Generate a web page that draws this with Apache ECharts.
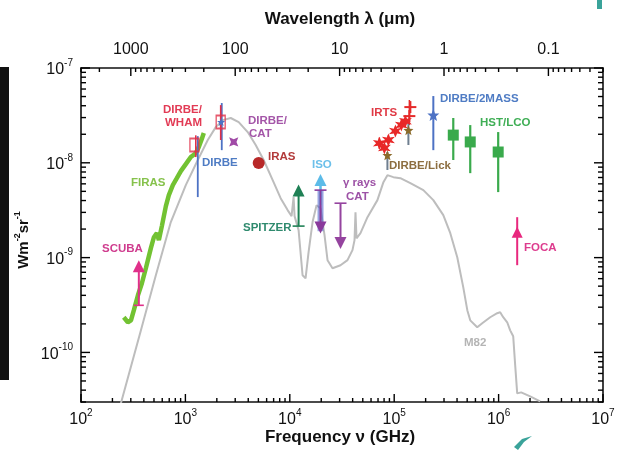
<!DOCTYPE html>
<html><head><meta charset="utf-8">
<script src="https://cdn.jsdelivr.net/npm/echarts@6/dist/echarts.min.js"></script>
<style>html,body{margin:0;padding:0;background:#fff}#c{width:619px;height:450px}</style>
</head><body><div id="c"></div>
<script>
const dbg = [];
window.onerror = function (m) { dbg.push('onerror: ' + m); };

// ---------- axis ranges / tick labels ----------
const freqRange = [1e2, 1e7];          // GHz
const intensityRange = [3e-11, 1e-7];  // W m^-2 sr^-1
const wavelengthRange = [0.03, 3000];  // micron (c / nu)
const freqTickExponents = [2, 3, 4, 5, 6, 7];
const intensityTickExponents = [-10, -9, -8, -7];
const wavelengthTickLabels = ['1000', '100', '10', '1', '0.1'];

// ---------- data: [frequency GHz, intensity] ----------
const m82 = [[231,2.45e-11],[375,1.71e-10],[521,6.52e-10],[725,2.37e-9],[1009,5.82e-9],[1314,1.07e-8],[1638,1.74e-8],[1954,2.38e-8],[2280,2.82e-8],[2718,2.97e-8],[3240,2.69e-8],[3953,2.11e-8],[4713,1.54e-8],[5620,1.07e-8],[6855,6.56e-9],[8170,4.24e-9],[9530,3.17e-9],[10400,2.74e-9],[10870,4.35e-9],[11110,2.74e-9],[12140,1.95e-9],[13250,6.52e-10],[14160,6.05e-10],[15130,1.14e-9],[16520,2.37e-9],[18040,3.57e-9],[19690,3.32e-9],[21510,1.73e-9],[22980,9.40e-10],[25650,7.73e-10],[30600,8.32e-10],[35700,9.40e-10],[39840,1.20e-9],[41690,1.53e-9],[42580,3.01e-9],[43560,1.60e-9],[47530,1.81e-9],[55460,2.67e-9],[69050,4.04e-9],[78850,6.25e-9],[86100,7.41e-9],[98200,7.06e-9],[114600,6.89e-9],[142800,6.10e-9],[190200,5.15e-9],[237000,4.04e-9],[295300,2.81e-9],[344600,1.81e-9],[401800,1.01e-9],[458900,4.86e-10],[501400,2.79e-10],[535000,2.18e-10],[624000,1.84e-10],[697000,2.03e-10],[831000,2.35e-10],[970000,2.59e-10],[1035000,2.65e-10],[1107000,2.35e-10],[1209000,2.08e-10],[1291000,1.71e-10],[1380000,1.48e-10],[1442000,7.31e-11],[1507000,3.70e-11],[1645000,3.79e-11],[2006000,3.44e-11],[2500000,3.05e-11]];
const firas = [[257,2.35e-10],[281,2.08e-10],[301,2.18e-10],[321,2.79e-10],[351,4.01e-10],[383,5.37e-10],[418,7.73e-10],[467,1.26e-9],[499,1.64e-9],[533,1.81e-9],[557,1.53e-9],[595,2.15e-9],[650,3.49e-9],[694,4.56e-9],[758,5.82e-9],[828,6.89e-9],[904,8.17e-9],[1009,9.68e-9],[1127,1.15e-8],[1257,1.26e-8],[1344,1.47e-8],[1436,1.78e-8],[1500,2.06e-8]];

// limits: [frequency, base of arrow, tip of arrow]
const scubaLimit   = [[358, 3.14e-10, 9.4e-10]];
const spitzerLimit = [[12140, 2.15e-9, 5.9e-9]];
const isoLower     = [[19690, 3.6e-9, 7.6e-9]];
const isoUpper     = [[19690, 5.15e-9, 1.8e-9]];
const gammaUpper   = [[30600, 3.75e-9, 1.23e-9]];

// error bars: [frequency, low, high]
const dirbeWhamBars = [[1257, 1.15e-8, 1.95e-8], [2178, 1.74e-8, 4.06e-8]];
const dirbeBars     = [[1314, 4.35e-9, 1.91e-8], [2230, 1.36e-8, 4.27e-8]];
const isoBand       = [[19690, 1.9e-9, 5.15e-9]];
const lickBars      = [[86100, 8.4e-9, 1.3e-8], [136800, 1.54e-8, 2.69e-8]];
const irtsBars      = [[72100,1.4e-8,1.85e-8],[88000,1.55e-8,1.95e-8],[102700,1.95e-8,2.4e-8],[128000,2.5e-8,3.0e-8],[139700,2.5e-8,4.6e-8]];
const twoMassBars   = [[237000, 1.36e-8, 5.06e-8]];
const hstBars       = [[368000, 1.07e-8, 2.97e-8], [535000, 7.78e-9, 2.50e-8], [991000, 4.91e-9, 2.11e-8]];
const focaBars      = [[1507000, 8.32e-10, 2.67e-9]];

// points: [frequency, intensity]
const dirbeWhamPts = [[1220, 1.54e-8], [2178, 2.69e-8]];
const dirbePts     = [[2200, 2.69e-8]];
const dirbeCatPts  = [[2904, 1.66e-8]];
const irasPts      = [[5034, 9.93e-9]];
const irtsPts      = [[72100,1.61e-8],[80500,1.43e-8],[88000,1.74e-8],[102700,2.16e-8],[117100,2.50e-8],[128000,2.75e-8]];
const irtsCross    = [[139700, 3.11e-8], [142800, 3.87e-8]];
const lickPts      = [[86100, 1.20e-8], [136800, 2.21e-8]];
const twoMassPts   = [[237000, 3.19e-8]];
const hstPts       = [[368000, 1.96e-8], [535000, 1.66e-8], [991000, 1.30e-8]];
const focaPts      = [[1507000, 1.85e-9]];

const FONT = '"Liberation Sans", Arial, Helvetica, sans-serif';
const isPow10 = v => Math.abs(Math.log10(v) - Math.round(Math.log10(v))) < 1e-6;

function arrowSeries(name, data, color, capW, lw) {
  return { type:'custom', name, data, clip:false, z:6,
    renderItem(p, api) {
      const a = api.coord([api.value(0), api.value(1)]);
      const b = api.coord([api.value(0), api.value(2)]);
      const dir = b[1] < a[1] ? -1 : 1, th = 12, tw = 6;
      const ch = [
        {type:'line', shape:{x1:a[0],y1:a[1],x2:b[0],y2:b[1]-dir*th*0.5}, style:{stroke:color,lineWidth:lw||2}},
        {type:'polygon', shape:{points:[[b[0],b[1]],[b[0]-tw,b[1]-dir*th],[b[0]+tw,b[1]-dir*th]]}, style:{fill:color}}
      ];
      if (capW) ch.push({type:'line', shape:{x1:a[0]-capW,y1:a[1],x2:a[0]+capW,y2:a[1]}, style:{stroke:color,lineWidth:1.6}});
      return {type:'group', children:ch};
    }};
}
function barSeries(name, data, color, lw, capW, z) {
  return { type:'custom', name, data, clip:false, z:z||4,
    renderItem(p, api) {
      const a = api.coord([api.value(0), api.value(1)]);
      const b = api.coord([api.value(0), api.value(2)]);
      const ch = [{type:'line', shape:{x1:a[0],y1:a[1],x2:b[0],y2:b[1]}, style:{stroke:color,lineWidth:lw}}];
      if (capW) ch.push({type:'line', shape:{x1:b[0]-capW,y1:b[1],x2:b[0]+capW,y2:b[1]}, style:{stroke:color,lineWidth:1.6}});
      return {type:'group', children:ch};
    }};
}
function crossSeries(name, data, color) {
  return { type:'custom', name, data, clip:false, z:7,
    renderItem(p, api) {
      const a = api.coord([api.value(0), api.value(1)]);
      return {type:'group', children:[
        {type:'line', shape:{x1:a[0]-6,y1:a[1],x2:a[0]+6,y2:a[1]}, style:{stroke:color,lineWidth:2}},
        {type:'line', shape:{x1:a[0],y1:a[1]-6,x2:a[0],y2:a[1]+6}, style:{stroke:color,lineWidth:2}}
      ]};
    }};
}
function pts(name, data, symbol, size, color, extra) {
  return Object.assign({ type:'scatter', name, data, symbol, symbolSize:size, z:7,
    itemStyle:{color, opacity:1} }, extra||{});
}
const STAR5 = 'path://M0,-10 L2.6,-3.4 9.5,-3.1 4.1,1.3 5.9,8.1 0,4.2 -5.9,8.1 -4.1,1.3 -9.5,-3.1 -2.6,-3.4Z';
const STAR6 = 'path://M0,-10 L2.2,-3.8 8.7,-5 4.4,0 8.7,5 2.2,3.8 0,10 -2.2,3.8 -8.7,5 -4.4,0 -8.7,-5 -2.2,-3.8Z';
const STAR4 = 'path://M0,-10 L3,-3 10,0 3,3 0,10 -3,3 -10,0 -3,-3Z';

const supRich = {
  b:{fontSize:16, fontFamily:FONT, color:'#111', lineHeight:20, verticalAlign:'bottom'},
  s:{fontSize:10, fontFamily:FONT, color:'#111', lineHeight:10, verticalAlign:'top'}
};
const axisLineStyle = {show:true, onZero:false, lineStyle:{color:'#111', width:1.6}};

const chart = echarts.init(document.getElementById('c'));
const lbl = (t, x, y, color) => ({type:'text', x, y, z:20, style:{text:t, fill:color, font:'bold 11.5px ' + FONT, textVerticalAlign:'middle'}});

const makeTextGraphics = () => [
  {type:'rect', shape:{x:0, y:67, width:9, height:313}, style:{fill:'#111'}, z:1},
  {type:'rect', shape:{x:597, y:0, width:5, height:9}, style:{fill:'#3aa39a'}, z:1},
  {type:'polygon', shape:{points:[[514,447],[522,439],[532,436],[524,442],[518,450]]}, style:{fill:'#3aa39a'}, z:1},
  {type:'text', x:340, y:19, z:20, style:{text:'Wavelength λ (μm)', fill:'#111', font:'bold 17px ' + FONT, textAlign:'center', textVerticalAlign:'middle'}},
  {type:'text', x:340, y:437, z:20, style:{text:'Frequency ν (GHz)', fill:'#111', font:'bold 17px ' + FONT, textAlign:'center', textVerticalAlign:'middle'}},
  {type:'text', x:22, y:240, rotation:Math.PI/2, z:20, style:{text:'{b|Wm}{s|-2}{b|sr}{s|-1}', textAlign:'center', textVerticalAlign:'middle',
    rich:{b:{font:'bold 15px ' + FONT, fill:'#111', lineHeight:18, verticalAlign:'bottom'}, s:{font:'bold 9px ' + FONT, fill:'#111', lineHeight:9, verticalAlign:'top'}}}},
  lbl('DIRBE/', 163, 110, '#e23b55'), lbl('WHAM', 165, 123, '#e23b55'),
  lbl('DIRBE', 202, 163, '#4f7cc4'),
  lbl('DIRBE/', 248, 121, '#a456a8'), lbl('CAT', 249, 134, '#a456a8'),
  lbl('IRAS', 268, 157, '#b23a3a'),
  lbl('FIRAS', 131, 183, '#86c24c'),
  lbl('SCUBA', 102, 249, '#cf3c8e'),
  lbl('SPITZER', 243, 228, '#2f8a6e'),
  lbl('ISO', 312, 165, '#6cc0ea'),
  lbl('γ rays', 343, 183, '#9d52a6'), lbl('CAT', 346, 197, '#9d52a6'),
  lbl('IRTS', 371, 113, '#e03a45'),
  lbl('DIRBE/Lick', 389, 166, '#8c6d3f'),
  lbl('DIRBE/2MASS', 440, 99, '#4f7cc4'),
  lbl('HST/LCO', 480, 123, '#3fae55'),
  lbl('FOCA', 524, 248, '#dd3c8e'),
  lbl('M82', 464, 343, '#b4b4b4')
];

try {
chart.setOption({
  animation:false,
  backgroundColor:'#fff',
  grid:{left:81, right:16, top:68, bottom:48, outerBoundsMode:'none'},
  xAxis:[
    {type:'log', min:freqRange[0], max:freqRange[1], position:'bottom', axisLine:axisLineStyle,
     axisTick:{show:false}, splitLine:{show:false},
     axisLabel:{margin:6, showMinLabel:true, showMaxLabel:true, rich:supRich,
       formatter:v => isPow10(v) && freqTickExponents.includes(Math.round(Math.log10(v))) ? '{b|10}{s|' + Math.round(Math.log10(v)) + '}' : ''}},
    {type:'log', min:wavelengthRange[0], max:wavelengthRange[1], inverse:true, position:'top', axisLine:axisLineStyle,
     axisTick:{show:false}, splitLine:{show:false},
     axisLabel:{margin:10, fontSize:16, fontFamily:FONT, color:'#111', showMinLabel:true, showMaxLabel:true,
       formatter:v => {
         if (!isPow10(v)) return '';
         const e = Math.round(Math.log10(v));
         const s = e >= 0 ? String(Math.pow(10, e)) : (Math.pow(10, e)).toFixed(-e);
         return wavelengthTickLabels.includes(s) ? s : '';
       }}}
  ],
  yAxis:[
    {type:'log', min:intensityRange[0], max:intensityRange[1], position:'left', axisLine:axisLineStyle,
     axisTick:{show:false}, splitLine:{show:false},
     axisLabel:{margin:8, showMinLabel:true, showMaxLabel:true, rich:supRich,
       formatter:v => isPow10(v) && intensityTickExponents.includes(Math.round(Math.log10(v))) ? '{b|10}{s|' + Math.round(Math.log10(v)) + '}' : ''}},
    {type:'log', min:intensityRange[0], max:intensityRange[1], position:'right', axisLine:axisLineStyle,
     axisTick:{show:false}, splitLine:{show:false}, axisLabel:{show:false}}
  ],
  series:[
    {type:'line', name:'M82', data:m82, showSymbol:false, symbol:'none', z:2, lineStyle:{color:'#bdbdbd', width:2}},
    {type:'line', name:'FIRAS', data:firas, showSymbol:false, symbol:'none', z:3, lineStyle:{color:'#72c232', width:4.5}},
    barSeries('DIRBE bars', dirbeBars, '#4d72c4', 1.8),
    barSeries('DIRBE/WHAM bars', dirbeWhamBars, '#e03048', 1.6, 0, 5),
    pts('DIRBE/WHAM', dirbeWhamPts, 'rect', [9, 13], 'rgba(255,255,255,0)', {itemStyle:{color:'rgba(255,255,255,0)', borderColor:'#e03048', borderWidth:1.6}}),
    pts('DIRBE', dirbePts, STAR5, 8, '#4d72c4'),
    pts('DIRBE/CAT', dirbeCatPts, STAR4, 13, '#a04aa6', {symbolRotate:45}),
    pts('IRAS', irasPts, 'circle', 12, '#b82828'),
    arrowSeries('SCUBA', scubaLimit, '#e0308a', 5),
    arrowSeries('SPITZER', spitzerLimit, '#1f8055', 6),
    barSeries('ISO band', isoBand, 'rgba(70,90,200,0.55)', 6),
    arrowSeries('ISO lower', isoLower, '#5cbbe8', 0, 2.5),
    arrowSeries('ISO upper', isoUpper, '#8a3a9c', 6),
    arrowSeries('gamma rays CAT', gammaUpper, '#95449f', 6),
    barSeries('IRTS bars', irtsBars, '#e52a2a', 1.5),
    barSeries('DIRBE/Lick bars', lickBars, '#6f7f90', 2),
    pts('IRTS', irtsPts, STAR6, 13, '#e82828'),
    crossSeries('IRTS cross', irtsCross, '#e52a2a'),
    pts('DIRBE/Lick', lickPts, STAR5, 10, '#8a6a2a'),
    barSeries('DIRBE/2MASS bars', twoMassBars, '#4d72c4', 2),
    pts('DIRBE/2MASS', twoMassPts, STAR5, 12, '#4d72c4'),
    barSeries('HST/LCO bars', hstBars, '#3aaa4c', 2.2),
    pts('HST/LCO', hstPts, 'rect', 11, '#3aaa4c'),
    barSeries('FOCA bars', focaBars, '#e8287e', 2),
    pts('FOCA', focaPts, 'triangle', 11, '#e8287e')
  ],
  graphic:makeTextGraphics()
});
} catch (e) { dbg.push('opt1: ' + e.message); }

// ---------- ticks (major + minor on all four sides), positioned through the chart's own scales ----------
const tickLines = [];
try {
  const toPx = (x, y) => chart.convertToPixel({gridIndex:0}, [x, y]);
  const addTick = (p, dx, dy) => {
    if (!p || !isFinite(p[0]) || !isFinite(p[1])) { if (dbg.length < 3) dbg.push('bad px ' + JSON.stringify(p)); return; }
    tickLines.push({type:'line', z:15, shape:{x1:p[0], y1:p[1], x2:p[0] + dx, y2:p[1] + dy}, style:{stroke:'#000', lineWidth:1.4}});
  };
  for (let e = 2; e <= 7; e++) for (let k = 1; k <= 9; k++) {
    const v = k * Math.pow(10, e); if (v > freqRange[1] * 1.0001) break;
    addTick(toPx(v, intensityRange[0]), 0, -(k === 1 ? 8 : 4));
  }
  for (let e = -11; e <= -7; e++) for (let k = 1; k <= 9; k++) {
    const v = k * Math.pow(10, e);
    if (v < intensityRange[0] || v > intensityRange[1] * 1.0001) continue;
    const len = k === 1 ? 9 : 5;
    addTick(toPx(freqRange[0], v), len, 0);
    addTick(toPx(freqRange[1], v), -len, 0);
  }
  for (let e = -2; e <= 3; e++) for (let k = 1; k <= 9; k++) {
    const nu = 3e5 / (k * Math.pow(10, e));
    if (nu < freqRange[0] || nu > freqRange[1]) continue;
    addTick(toPx(nu, intensityRange[1]), 0, k === 1 ? 8 : 4);
  }
} catch (e) { dbg.push('ticks: ' + e.message); }
if (!tickLines.length) dbg.push('no ticks');

const finalGraphics = makeTextGraphics().concat(tickLines);
if (dbg.length) finalGraphics.push({type:'text', x:90, y:380, z:30, style:{text:dbg.join(' | ').slice(0, 200), fill:'#f00', font:'10px sans-serif'}});
try { chart.setOption({graphic: finalGraphics}); } catch (e) { /* ignore */ }
</script></body></html>
